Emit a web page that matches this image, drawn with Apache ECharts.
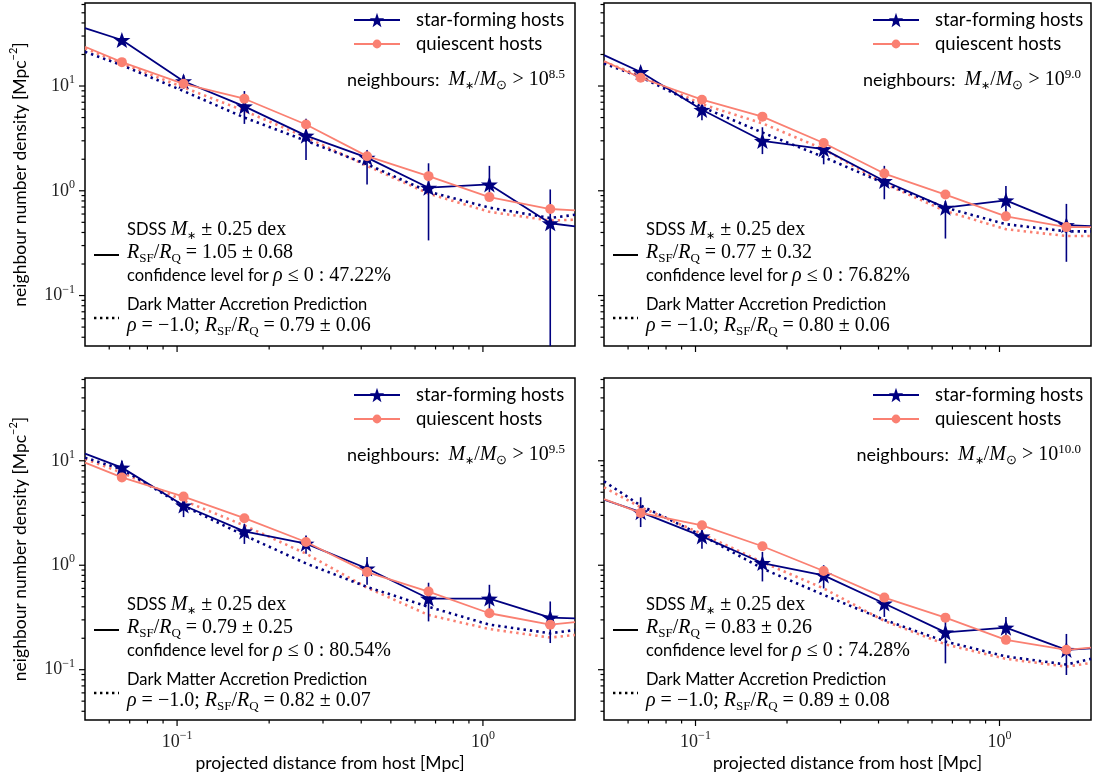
<!DOCTYPE html>
<html><head><meta charset="utf-8">
<script src="https://cdn.jsdelivr.net/npm/echarts@6/dist/echarts.min.js"></script>
<style>html,body{margin:0;padding:0;background:#fff}#c{width:1097px;height:780px}</style>
</head><body><div id="c"></div>
<script>
// ---------------- data ----------------
const xBins = [0.066, 0.105, 0.166, 0.264, 0.418, 0.664, 1.05, 1.66];
const xFull = [0.05, 0.066, 0.105, 0.166, 0.264, 0.418, 0.664, 1.05, 1.66, 2];
const xLimits = [0.05, 2];
const yLimits = [0.033, 62];
const xMajor = [0.1, 1];
const xMinor = [0.06, 0.07, 0.08, 0.09, 0.2, 0.3, 0.4, 0.5, 0.6, 0.7, 0.8, 0.9];
const yMajor = [0.1, 1, 10];
const yMinor = [0.04, 0.05, 0.06, 0.07, 0.08, 0.09, 0.2, 0.3, 0.4, 0.5, 0.6, 0.7, 0.8, 0.9,
                2, 3, 4, 5, 6, 7, 8, 9, 20, 30, 40, 50, 60];

const massCuts = ['8.5', '9.0', '9.5', '10.0'];
const ratioObs = ['1.05', '0.77', '0.79', '0.83'];
const ratioObsErr = ['0.68', '0.32', '0.25', '0.26'];
const confLevel = ['47.22', '76.82', '80.54', '74.28'];
const ratioDM = ['0.79', '0.80', '0.82', '0.89'];
const ratioDMErr = ['0.06', '0.06', '0.07', '0.08'];

// star-forming hosts (values at xBins), line ends at axis limits, error bar low/high
const sf1 = [27.5, 11.1, 6.4, 3.36, 2.07, 1.07, 1.15, 0.49];
const sf1Ends = [35.7, 0.458];
const sf1Lo = [25, 9.4, 4.35, 1.97, 1.15, 0.336, 0.80, 0.02];
const sf1Hi = [30, 12.7, 8.95, 4.87, 2.44, 1.83, 1.73, 1.03];
const sf2 = [13.6, 5.93, 3.0, 2.5, 1.24, 0.69, 0.81, 0.47];
const sf2Ends = [19.7, 0.46];
const sf2Lo = [11.8, 4.7, 2.24, 1.79, 0.83, 0.35, 0.59, 0.21];
const sf2Hi = [15.2, 7.0, 4.04, 3.0, 1.73, 0.80, 1.11, 0.75];
const sf3 = [8.6, 3.73, 2.11, 1.61, 0.93, 0.48, 0.48, 0.315];
const sf3Ends = [11.7, 0.31];
const sf3Lo = [7.5, 2.89, 1.6, 1.29, 0.65, 0.29, 0.36, 0.18];
const sf3Hi = [10.0, 4.47, 2.49, 1.93, 1.2, 0.68, 0.65, 0.45];
const sf4 = [3.22, 1.89, 1.05, 0.80, 0.43, 0.228, 0.253, 0.155];
const sf4Ends = [4.25, 0.16];
const sf4Lo = [2.32, 1.44, 0.70, 0.60, 0.32, 0.115, 0.2, 0.089];
const sf4Hi = [4.47, 2.23, 1.34, 1.0, 0.54, 0.30, 0.32, 0.22];

// quiescent hosts
const q1 = [16.9, 10.5, 7.56, 4.29, 2.14, 1.38, 0.87, 0.67];
const q1Ends = [23.7, 0.65];
const q2 = [12.0, 7.4, 5.1, 2.86, 1.46, 0.92, 0.57, 0.45];
const q2Ends = [17.3, 0.45];
const q3 = [6.93, 4.54, 2.82, 1.67, 0.86, 0.56, 0.347, 0.27];
const q3Ends = [9.6, 0.285];
const q4 = [3.17, 2.41, 1.52, 0.88, 0.49, 0.315, 0.193, 0.155];
const q4Ends = [4.3, 0.163];

// dark matter accretion prediction (values at xFull)
const dmSf1 = [21.2, 15.8, 8.95, 5.0, 3.0, 1.79, 0.98, 0.69, 0.55, 0.59];
const dmQ1  = [22.9, 16.4, 9.7, 5.8, 3.24, 1.73, 0.94, 0.63, 0.52, 0.53];
const dmSf2 = [16.4, 12.2, 6.3, 3.6, 2.1, 1.18, 0.69, 0.48, 0.41, 0.41];
const dmQ2  = [17.0, 12.5, 6.7, 4.4, 2.5, 1.17, 0.64, 0.43, 0.37, 0.37];
const dmSf3 = [10.7, 8.3, 3.7, 1.93, 1.04, 0.62, 0.40, 0.27, 0.223, 0.24];
const dmQ3  = [10.4, 7.7, 4.16, 2.4, 1.29, 0.61, 0.334, 0.245, 0.203, 0.215];
const dmSf4 = [6.35, 3.73, 1.93, 0.93, 0.52, 0.30, 0.186, 0.134, 0.112, 0.127];
const dmQ4  = [5.57, 3.59, 2.0, 1.07, 0.60, 0.293, 0.175, 0.127, 0.107, 0.116];

// ---------------- style / layout ----------------
const NAVY = '#000080', SALMON = '#FA8072';
const SANS = 'Lato', SERIF = 'Liberation Serif';
const STAR = 'path://M0,-10L2.35,-3.24L9.51,-3.09L3.8,1.24L5.88,8.09L0,4L-5.88,8.09L-3.8,1.24L-9.51,-3.09L-2.35,-3.24Z';

const panels = [
  {left: 85, top: 3, width: 490, height: 343, xLab: false, yLab: true},
  {left: 604, top: 3, width: 487, height: 343, xLab: false, yLab: false},
  {left: 85, top: 378, width: 490, height: 342, xLab: true, yLab: true},
  {left: 604, top: 378, width: 487, height: 342, xLab: true, yLab: false}
];
const SF = [sf1, sf2, sf3, sf4], SFE = [sf1Ends, sf2Ends, sf3Ends, sf4Ends];
const SFLO = [sf1Lo, sf2Lo, sf3Lo, sf4Lo], SFHI = [sf1Hi, sf2Hi, sf3Hi, sf4Hi];
const Q = [q1, q2, q3, q4], QE = [q1Ends, q2Ends, q3Ends, q4Ends];
const DMSF = [dmSf1, dmSf2, dmSf3, dmSf4], DMQ = [dmQ1, dmQ2, dmQ3, dmQ4];

const tickRich = {
  b: {fontFamily: SERIF, fontSize: 18, color: '#222', lineHeight: 24},
  s: {fontFamily: SERIF, fontSize: 12, color: '#222', lineHeight: 12, verticalAlign: 'top'}
};
function powFmt(v) {
  const e = Math.log10(v);
  if (Math.abs(e - Math.round(e)) > 1e-6) return '';
  const n = Math.round(e);
  return '{b|10}{s|' + (n < 0 ? '\u2212' + (-n) : n) + '}';
}

const txtRich = {
  t: {fontFamily: SANS, fontSize: 16.5, color: '#000', lineHeight: 24},
  T: {fontFamily: SANS, fontSize: 18, color: '#000', lineHeight: 24},
  r: {fontFamily: SERIF, fontSize: 20, color: '#333', lineHeight: 24},
  i: {fontFamily: SERIF, fontSize: 20, fontStyle: 'italic', color: '#333', lineHeight: 24},
  sb: {fontFamily: SERIF, fontSize: 13, color: '#333', lineHeight: 14, verticalAlign: 'bottom'},
  sa: {fontFamily: SERIF, fontSize: 11, color: '#333', lineHeight: 14, verticalAlign: 'bottom'},
  sp: {fontFamily: SERIF, fontSize: 13, color: '#333', lineHeight: 14, verticalAlign: 'top'}
};

function lineData(xs, ys, ends) {
  const d = [{value: [xLimits[0], ends[0]], symbol: 'none'}];
  xs.forEach((x, i) => d.push([x, ys[i]]));
  d.push({value: [xLimits[1], ends[1]], symbol: 'none'});
  return d;
}

const grid = [], xAxis = [], yAxis = [], series = [], legend = [], graphic = [];

panels.forEach((p, gi) => {
  grid.push({left: p.left, top: p.top, width: p.width, height: p.height, show: true,
    borderColor: '#000', borderWidth: 1.5, backgroundColor: 'transparent'});
  xAxis.push({type: 'log', logBase: 10, gridIndex: gi, min: xLimits[0], max: xLimits[1],
    axisLine: {show: false}, axisTick: {show: false}, splitLine: {show: false},
    axisLabel: {show: p.xLab, formatter: powFmt, rich: tickRich, margin: 10,
      showMinLabel: false, showMaxLabel: false},
    name: p.xLab ? 'projected distance from host [Mpc]' : '', nameLocation: 'middle', nameGap: 34,
    nameTextStyle: {fontFamily: SANS, fontSize: 17.5, color: '#000'}});
  yAxis.push({type: 'log', logBase: 10, gridIndex: gi, min: yLimits[0], max: yLimits[1],
    axisLine: {show: false}, axisTick: {show: false}, splitLine: {show: false},
    axisLabel: {show: p.yLab, formatter: powFmt, rich: tickRich, margin: 10,
      showMinLabel: false, showMaxLabel: false},
    name: p.yLab ? '{a|neighbour number density [Mpc}{s|\u22122}{a|]}' : '', nameLocation: 'middle',
    nameGap: 53, nameRotate: 90,
    nameTextStyle: {rich: {
      a: {fontFamily: SANS, fontSize: 17.5, color: '#000', lineHeight: 24},
      s: {fontFamily: SANS, fontSize: 11, color: '#000', lineHeight: 12, verticalAlign: 'top'}}}});

  // ticks (outward) drawn through the axes' own scales
  const tickData = [];
  xMajor.forEach(v => tickData.push([v, yLimits[0], 0, 6]));
  xMinor.forEach(v => tickData.push([v, yLimits[0], 0, 3.5]));
  yMajor.forEach(v => tickData.push([xLimits[0], v, 1, 6]));
  yMinor.forEach(v => tickData.push([xLimits[0], v, 1, 3.5]));
  series.push({type: 'custom', name: 'ticks' + gi, xAxisIndex: gi, yAxisIndex: gi, silent: true,
    data: tickData, z: 1,
    renderItem: (params, api) => {
      const c = api.coord([api.value(0), api.value(1)]);
      const len = api.value(3);
      const isY = api.value(2) === 1;
      return {type: 'line', shape: isY ? {x1: c[0] - len, y1: c[1], x2: c[0], y2: c[1]}
                                        : {x1: c[0], y1: c[1], x2: c[0], y2: c[1] + len},
        style: {stroke: '#000', lineWidth: 1.2}};
    }});

  // dark matter predictions (dotted)
  series.push({type: 'line', name: 'dmq' + gi, xAxisIndex: gi, yAxisIndex: gi, symbol: 'none',
    data: xFull.map((x, i) => [x, DMQ[gi][i]]), z: 2, silent: true,
    lineStyle: {color: SALMON, width: 2.6, type: [2.4, 4], cap: 'butt'}});
  series.push({type: 'line', name: 'dmsf' + gi, xAxisIndex: gi, yAxisIndex: gi, symbol: 'none',
    data: xFull.map((x, i) => [x, DMSF[gi][i]]), z: 2, silent: true,
    lineStyle: {color: NAVY, width: 2.6, type: [2.4, 4], cap: 'butt'}});

  // SF error bars
  series.push({type: 'custom', name: 'sferr' + gi, xAxisIndex: gi, yAxisIndex: gi, silent: true,
    clip: true, z: 3,
    data: xBins.map((x, i) => [x, SFLO[gi][i], SFHI[gi][i]]),
    renderItem: (params, api) => {
      const a = api.coord([api.value(0), api.value(1)]);
      const b = api.coord([api.value(0), api.value(2)]);
      return {type: 'line', shape: {x1: a[0], y1: a[1], x2: b[0], y2: b[1]},
        style: {stroke: NAVY, lineWidth: 1.6}};
    }});

  series.push({type: 'line', name: 'star-forming hosts', xAxisIndex: gi, yAxisIndex: gi,
    symbol: STAR, symbolSize: 17, symbolKeepAspect: true, z: 4,
    data: lineData(xBins, SF[gi], SFE[gi]),
    itemStyle: {color: NAVY}, lineStyle: {color: NAVY, width: 1.8}});
  series.push({type: 'line', name: 'quiescent hosts', xAxisIndex: gi, yAxisIndex: gi,
    symbol: 'circle', symbolSize: 10, z: 5,
    data: lineData(xBins, Q[gi], QE[gi]),
    itemStyle: {color: SALMON}, lineStyle: {color: SALMON, width: 1.8}});

  // legends
  legend.push({data: ['star-forming hosts'], left: p.left + 268, top: p.top + 17 - 11, padding: 0,
    itemWidth: 46, itemHeight: 18, selectedMode: false,
    textStyle: {fontFamily: SANS, fontSize: 18.5, lineHeight: 22, color: '#000', padding: [0, 0, 0, 11]}});
  legend.push({data: ['quiescent hosts'], left: p.left + 268, top: p.top + 41 - 11, padding: 0,
    itemWidth: 46, itemHeight: 11, selectedMode: false,
    textStyle: {fontFamily: SANS, fontSize: 18.5, lineHeight: 22, color: '#000', padding: [0, 0, 0, 11]}});

  // annotation texts
  const R = '{i|R}{sb|SF}{r|/}{i|R}{sb|Q}';
  graphic.push({type: 'text', x: p.left + p.width - 10, y: p.top + 77, silent: true,
    style: {text: '{T|neighbours:  }{i|M}{sa|\u2217}{r|/}{i|M}{sb|\u2299}{r| > 10}{sp|' + massCuts[gi] + '}',
      rich: txtRich, align: 'right', verticalAlign: 'middle'}});
  const tx = p.left + 42;
  const rows = [
    [227, '{t|SDSS }{i|M}{sa|\u2217}{r| \u00b1 0.25 dex}'],
    [250, R + '{r| = ' + ratioObs[gi] + ' \u00b1 ' + ratioObsErr[gi] + '}'],
    [273, '{t|confidence level for }{i|\u03c1}{r| \u2264 0 : ' + confLevel[gi] + '%}'],
    [302, '{t|Dark Matter Accretion Prediction}'],
    [323, '{i|\u03c1}{r| = \u22121.0; }' + R + '{r| = ' + ratioDM[gi] + ' \u00b1 ' + ratioDMErr[gi] + '}']
  ];
  rows.forEach(([dy, s]) => graphic.push({type: 'text', x: tx, y: p.top + dy, silent: true,
    style: {text: s, rich: txtRich, align: 'left', verticalAlign: 'middle'}}));
  graphic.push({type: 'line', silent: true,
    shape: {x1: p.left + 9, y1: p.top + 252, x2: p.left + 34, y2: p.top + 252},
    style: {stroke: '#000', lineWidth: 2}});
  graphic.push({type: 'line', silent: true,
    shape: {x1: p.left + 9, y1: p.top + 315, x2: p.left + 34, y2: p.top + 315},
    style: {stroke: '#000', lineWidth: 2.4, lineDash: [2.4, 3.6]}});
});

const chart = echarts.init(document.getElementById('c'), null, {renderer: 'canvas'});
chart.setOption({animation: false, backgroundColor: '#fff', grid, xAxis, yAxis, series, legend, graphic});
</script></body></html>
